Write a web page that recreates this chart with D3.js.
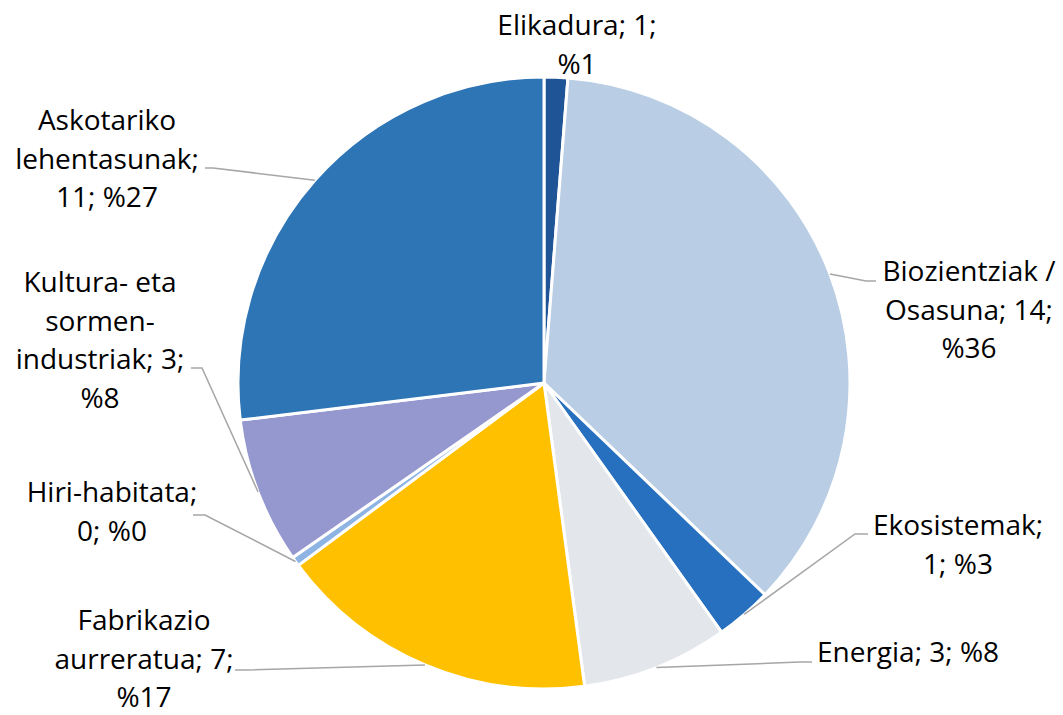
<!DOCTYPE html>
<html>
<head>
<meta charset="utf-8">
<script src="https://cdn.jsdelivr.net/npm/d3@7"></script>
<style>
  body { margin: 0; background: #fff; }
  text { font-family: "Open Sans", Lato, sans-serif; }
</style>
</head>
<body>
<div id="chart"></div>
<script>
// Data (values are not exact integers, the labels round them)
const categories = ["Elikadura", "Biozientziak / Osasuna", "Ekosistemak", "Energia",
  "Fabrikazio aurreratua", "Hiri-habitata", "Kultura- eta sormen-industriak", "Askotariko lehentasunak"];
const values = [0.5, 14.4, 1.2, 3.1, 6.8, 0.2, 3.1, 10.8];
const colors = ["#1f5597", "#b9cde4", "#2770c0", "#e3e7ec", "#ffc000", "#8eb4e3", "#9597cf", "#2e75b6"];

// label placement: centre x, first baseline, wrap width, leader elbow + end
const labelLayout = [
  { x: 577, y: 35,  w: 185, leader: null },
  { x: 969, y: 281, w: 185, leader: [[866, 281], [876, 281]] },
  { x: 958, y: 535, w: 180, leader: [[855, 534], [868, 534]] },
  { x: 908, y: 662, w: 260, leader: [[800, 662], [812, 662]] },
  { x: 144, y: 630, w: 190, leader: [[247, 670], [235, 670]] },
  { x: 112, y: 502, w: 185, leader: [[205, 515], [193, 515]] },
  { x: 100, y: 292, w: 180, leader: [[202, 368], [191, 368]] },
  { x: 107, y: 130, w: 200, leader: [[213, 168], [205, 168]] }
];

const width = 1063;
const height = 715;
const cx = 544, cy = 383, radius = 306;
const lineGap = 38.5;
const fontSize = "28px";

const svg = d3.select("#chart")
  .append("svg")
    .attr("width", width)
    .attr("height", height);

const total = d3.sum(values);
const data = categories.map(function (c, i) {
  return { name: c, value: values[i], color: colors[i], layout: labelLayout[i] };
});

const pie = d3.pie()
  .sort(null)
  .value(function (d) { return d.value; });

const arc = d3.arc()
  .innerRadius(0)
  .outerRadius(radius);

const arcs = pie(data);

const g = svg.append("g")
  .attr("transform", "translate(" + cx + "," + cy + ")");

g.selectAll("path.slice")
  .data(arcs)
  .enter()
  .append("path")
    .attr("class", "slice")
    .attr("d", arc)
    .attr("fill", function (d) { return d.data.color; })
    .attr("stroke", "#fff")
    .attr("stroke-width", 3)
    .attr("stroke-linejoin", "round");

// Leader lines: from slice edge at mid angle to the label
arcs.forEach(function (d) {
  const lay = d.data.layout;
  if (!lay.leader) return;
  const mid = (d.startAngle + d.endAngle) / 2;
  const p0 = [cx + radius * Math.sin(mid), cy - radius * Math.cos(mid)];
  svg.append("polyline")
    .attr("points", [p0].concat(lay.leader).map(function (p) { return p.join(","); }).join(" "))
    .attr("fill", "none")
    .attr("stroke", "#a6a6a6")
    .attr("stroke-width", 1.5);
});

// Labels: "Name; value; %pct", wrapped to a width
arcs.forEach(function (d) {
  const lay = d.data.layout;
  const full = d.data.name + "; " + Math.round(d.data.value) + "; %" + Math.round(d.data.value / total * 100);
  // split after spaces and after hyphens
  const tokens = full.match(/[^\s-]+-?|-/g);
  const seps = [];
  let pos = 0;
  tokens.forEach(function (t) {
    const idx = full.indexOf(t, pos);
    seps.push(idx > pos ? " " : "");
    pos = idx + t.length;
  });

  const text = svg.append("text")
    .attr("x", lay.x)
    .attr("y", lay.y)
    .attr("text-anchor", "middle")
    .style("font-size", fontSize)
    .attr("fill", "#000");

  const probe = svg.append("text").style("font-size", fontSize);
  const lines = [];
  let cur = "";
  tokens.forEach(function (t, i) {
    const trial = cur === "" ? t : cur + seps[i] + t;
    probe.text(trial);
    if (cur !== "" && probe.node().getComputedTextLength() > lay.w) {
      lines.push(cur);
      cur = t;
    } else {
      cur = trial;
    }
  });
  lines.push(cur);
  probe.remove();

  lines.forEach(function (l, i) {
    text.append("tspan")
      .attr("x", lay.x)
      .attr("y", lay.y + i * lineGap)
      .text(l);
  });
});
</script>
</body>
</html>
